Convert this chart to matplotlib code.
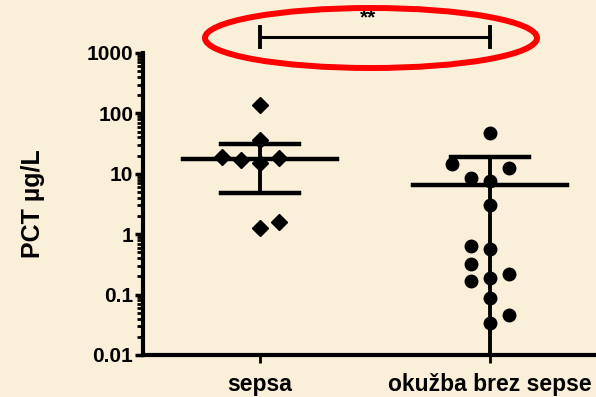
import matplotlib
matplotlib.use("Agg")
import matplotlib.pyplot as plt
from matplotlib.patches import Ellipse
from matplotlib.ticker import LogLocator, NullFormatter, FixedLocator

plt.rcParams["font.family"] = ["Liberation Sans", "DejaVu Sans"]
plt.rcParams["font.weight"] = "bold"

groups = ["sepsa", "okužba brez sepse"]

# PCT values per patient (µg/L) and their column slot in the scatter
sepsa_pct = [138, 36, 19, 17, 15, 18, 1.25, 1.6]
sepsa_slot = [0, 0, -2, -1, 0, 1, 0, 1]
okuzba_pct = [48, 14.5, 12.5, 8.5, 7.6, 3.0, 0.64, 0.57, 0.32, 0.17, 0.19, 0.22,
              0.087, 0.046, 0.034]
okuzba_slot = [0, -2, 1, -1, 0, 0, -1, 0, -1, -1, 0, 1, 0, 1, 0]

# mean with upper / lower error limits
means = [17.6, 6.5]
upper = [31, 19]
lower = [4.8, 0.01]

y_ticks = [0.01, 0.1, 1, 10, 100, 1000]
y_labels = ["0.01", "0.1", "1", "10", "100", "1000"]

bg = "#FAF0DA"
fig = plt.figure(figsize=(5.96, 3.97), dpi=100, facecolor=bg)
ax = fig.add_axes([143 / 596, 42 / 397, 465 / 596, 302 / 397])
ax.set_facecolor(bg)

slot_w = 0.083
ax.plot([1 + s * slot_w for s in sepsa_slot], sepsa_pct, "D", color="black",
        markersize=8, zorder=4)
ax.plot([2 + s * slot_w for s in okuzba_slot], okuzba_pct, "o", color="black",
        markersize=9, zorder=4)

for x, m, hi, lo in zip([1, 2], means, upper, lower):
    ax.plot([x - 0.335, x + 0.335], [m, m], color="black", lw=3.2, zorder=3)
    ax.plot([x, x], [lo, hi], color="black", lw=2.8, zorder=3)
    ax.plot([x - 0.17, x + 0.17], [hi, hi], color="black", lw=3.2, zorder=3)
    if lo > 0.01:
        ax.plot([x - 0.17, x + 0.17], [lo, lo], color="black", lw=3.2, zorder=3)

ax.set_yscale("log")
ax.set_ylim(0.01, 1000)
ax.set_xlim(0.491, 2.513)
ax.yaxis.set_major_locator(FixedLocator(y_ticks))
ax.set_yticklabels(y_labels)
ax.yaxis.set_minor_locator(LogLocator(base=10, subs=range(2, 10)))
ax.yaxis.set_minor_formatter(NullFormatter())
ax.set_xticks([1, 2])
ax.set_xticklabels(groups, fontsize=16.5, fontweight="bold")

for side in ["top", "right"]:
    ax.spines[side].set_visible(False)
for side in ["left", "bottom"]:
    ax.spines[side].set_linewidth(3)
ax.tick_params(axis="y", which="major", length=6, width=2.5, labelsize=15, pad=1)
ax.tick_params(axis="y", which="minor", length=4, width=2)
ax.tick_params(axis="x", length=6, width=2, pad=7)
for lab in ax.get_yticklabels():
    lab.set_fontweight("bold")

ax.set_ylabel("PCT µg/L", fontsize=18, fontweight="bold", labelpad=30)

# significance bracket
y_br = 1840
ax.plot([1, 2], [y_br, y_br], color="black", lw=2.2, clip_on=False)
for x in [1, 2]:
    ax.plot([x, x], [y_br * 0.68, y_br / 0.68], color="black", lw=2.8, clip_on=False)
ax.text(1.47, y_br * 1.45, "**", ha="center", va="bottom", fontsize=15,
        fontweight="bold", clip_on=False)

fig.patches.append(Ellipse((371 / 596, 1 - 38 / 397), 332 / 596, 60 / 397,
                           transform=fig.transFigure, fill=False,
                           edgecolor="#FF0000", lw=4.3))

fig.savefig("out.png", dpi=100, facecolor=bg)
